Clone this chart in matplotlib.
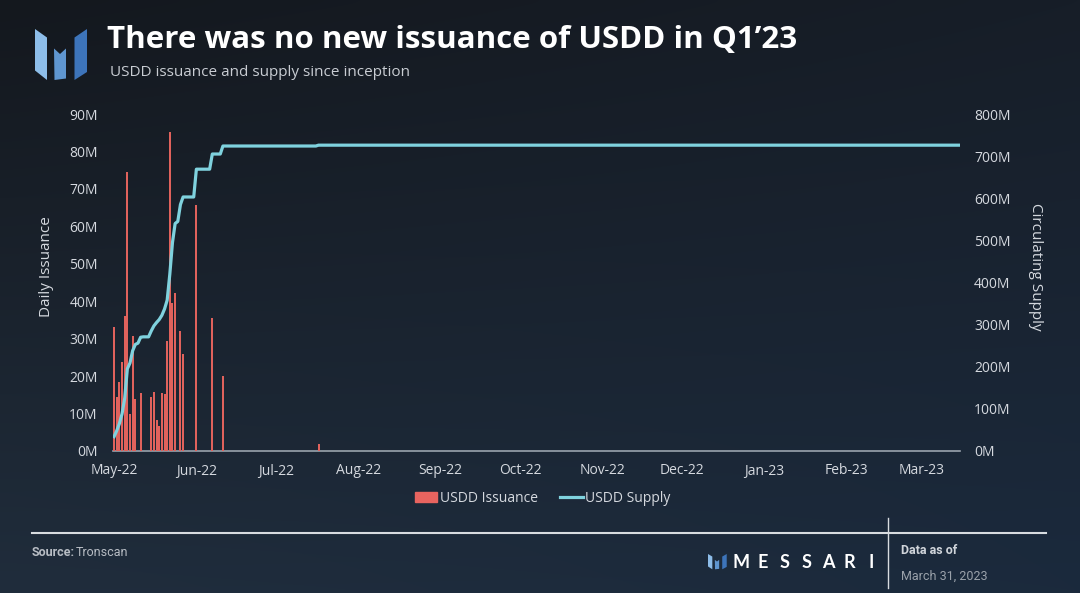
import numpy as np
import pandas as pd
import matplotlib
matplotlib.use('Agg')
import matplotlib.pyplot as plt
import matplotlib.dates as mdates
from matplotlib.patches import Polygon, Patch
from matplotlib.lines import Line2D
from matplotlib.ticker import FuncFormatter, MultipleLocator

# daily USDD issuance (millions)
issue_dates = ['2022-05-05', '2022-05-06', '2022-05-07', '2022-05-08', '2022-05-09',
               '2022-05-10', '2022-05-11', '2022-05-12', '2022-05-13', '2022-05-15',
               '2022-05-19', '2022-05-20', '2022-05-21', '2022-05-22', '2022-05-23',
               '2022-05-24', '2022-05-25', '2022-05-26', '2022-05-27', '2022-05-28',
               '2022-05-30', '2022-05-31', '2022-06-05', '2022-06-11', '2022-06-15',
               '2022-07-21']
issue_musd = [33.2, 14.5, 18.5, 23.9, 36.1, 74.4, 9.9, 30.8, 13.8, 15.4,
              14.5, 15.7, 8.3, 6.7, 15.4, 15.2, 29.4, 85.1, 39.4, 42.1,
              32.1, 25.8, 65.7, 35.4, 20.1, 1.9]

# circulating supply (millions), daily from 2022-05-05 to 2022-06-15
supply_start = '2022-05-05'
supply_daily = [34, 48, 65, 88, 125, 195, 209, 238, 253, 256,
                270, 271, 271, 271, 285, 297, 305, 312, 322, 337,
                358, 420, 495, 540, 545, 585, 603, 603, 603, 603,
                603, 669, 669, 669, 669, 669, 669, 705, 705, 705,
                705, 724]
# after that the supply barely moves
supply_late_dates = ['2022-07-20', '2022-07-21', '2023-03-19']
supply_late = [724, 726, 726]

month_ticks = pd.date_range('2022-05-05', '2023-03-05', freq=pd.DateOffset(months=1))

W, H = 1080, 593
fig = plt.figure(figsize=(W / 100, H / 100), dpi=100)

# background with a soft gradient, pixel coordinates
bg = fig.add_axes([0, 0, 1, 1])
bg.set_xlim(0, W)
bg.set_ylim(H, 0)
bg.axis('off')
tl = np.array([0x14, 0x18, 0x1e]) / 255
tr = np.array([0x17, 0x1e, 0x28]) / 255
bl = np.array([0x20, 0x2d, 0x3c]) / 255
br = np.array([0x1b, 0x2a, 0x3d]) / 255
u = np.linspace(0, 1, 200)[None, :, None]
v = np.linspace(0, 1, 120)[:, None, None]
grad = (1 - v) * ((1 - u) * tl + u * tr) + v * ((1 - u) * bl + u * br)
bg.imshow(grad, extent=[0, W, H, 0], aspect='auto', interpolation='bicubic')

# messari mark in the header
logo = [([(35.0, 29.0), (47.0, 37.5), (47.0, 80.0), (35.0, 70.5)], '#8dbde9'),
        ([(54, 48.5), (60, 54), (66, 48.5), (66, 78.5), (54.5, 80)], '#5f96d0'),
        ([(74.5, 37.5), (87, 29), (87, 72), (74.5, 80)], '#3d74ba')]
for pts, c in logo:
    bg.add_patch(Polygon(pts, closed=True, color=c, lw=0))
# small mark in the footer
for pts, c in logo:
    small = [(708 + (x - 35) * 0.36, 554 + (y - 29) * 0.3) for x, y in pts]
    bg.add_patch(Polygon(small, closed=True, color=c, lw=0))

fig.text(107 / W, 1 - 40 / H, 'There was no new issuance of USDD in Q1\u201923',
         family='Open Sans', weight='bold', size=22.5, color='white', va='center')
fig.text(110 / W, 1 - 73 / H, 'USDD issuance and supply since inception',
         family='Open Sans', size=11, color='#c9cdd3', va='center')

# chart
ax = fig.add_axes([113 / W, 1 - 451 / H, 847 / W, 337 / H])
ax.patch.set_alpha(0)
ax2 = ax.twinx()

ax.bar(pd.to_datetime(issue_dates), issue_musd, width=0.75,
       color='#e0625c', lw=0, zorder=3)
sup_x = list(pd.date_range(supply_start, periods=len(supply_daily))) + list(pd.to_datetime(supply_late_dates))
sup_y = supply_daily + supply_late
ax2.plot(sup_x, sup_y, color='#7fd2de', lw=2.3, solid_joinstyle='round')

ax.set_xlim(pd.Timestamp('2022-05-05') - pd.Timedelta(days=0.4),
            pd.Timestamp('2022-05-05') + pd.Timedelta(days=318.6))
ax.set_ylim(0, 90)
ax2.set_ylim(0, 800)
ax.yaxis.set_major_locator(MultipleLocator(10))
ax2.yaxis.set_major_locator(MultipleLocator(100))
fmt = FuncFormatter(lambda v, p: f'{v:.0f}M')
ax.yaxis.set_major_formatter(fmt)
ax2.yaxis.set_major_formatter(fmt)
ax.set_xticks(month_ticks)
ax.xaxis.set_major_formatter(mdates.DateFormatter('%b-%y'))

for a in (ax, ax2):
    for s in a.spines.values():
        s.set_visible(False)
ax.spines['bottom'].set_visible(True)
ax.spines['bottom'].set_color('#9aa3ad')
ax.spines['bottom'].set_linewidth(1.2)

ax.tick_params(axis='y', length=0, pad=11, labelsize=10, labelcolor='#d5d9df')
ax.tick_params(axis='x', length=0, pad=9, labelsize=10, labelcolor='#d5d9df')
ax2.tick_params(axis='y', length=0, pad=10, labelsize=10, labelcolor='#d5d9df')
for lab in ax.get_xticklabels() + ax.get_yticklabels() + ax2.get_yticklabels():
    lab.set_family('Open Sans')

fig.text(47 / W, 1 - 267 / H, 'Daily Issuance', rotation=90, family='Open Sans',
         size=11, color='#d5d9df', ha='center', va='center')
fig.text(1035 / W, 1 - 267 / H, 'Circulating Supply', rotation=270, family='Open Sans',
         size=11, color='#d5d9df', ha='center', va='center')

handles = [Patch(color='#e8645f'), Line2D([], [], color='#7fd2de', lw=2.3)]
fig.legend(handles, ['USDD Issuance', 'USDD Supply'], loc='center',
           bbox_to_anchor=(543 / W, 1 - 498 / H), ncol=2, frameon=False,
           handlelength=1.6, handletextpad=0.2, columnspacing=1.6,
           prop={'family': 'Open Sans', 'size': 10}, labelcolor='#d5d9df')

# footer
bg.plot([32, 1046], [533, 533], color='#d8dce0', lw=1.5)
bg.plot([888, 888], [518, 588], color='#d8dce0', lw=1)
bg.text(32, 552, 'Source:', family='Roboto', weight='bold', size=9,
        color='#b8bdc4', va='center')
bg.text(76, 552, 'Tronscan', family='Roboto', size=9, color='#b8bdc4', va='center')
for i, ch in enumerate('MESSARI'):
    bg.text(741.5 + i * 21.6, 562, ch, family='Lato', weight='bold', size=13,
            color='white', ha='center', va='center')
bg.text(901, 551, 'Data as of', family='Roboto', weight='bold', size=9,
        color='#d0d4da', va='center')
bg.text(901, 576, 'March 31, 2023', family='Roboto', size=9,
        color='#9aa1aa', va='center')

fig.savefig('out.png', dpi=100)
